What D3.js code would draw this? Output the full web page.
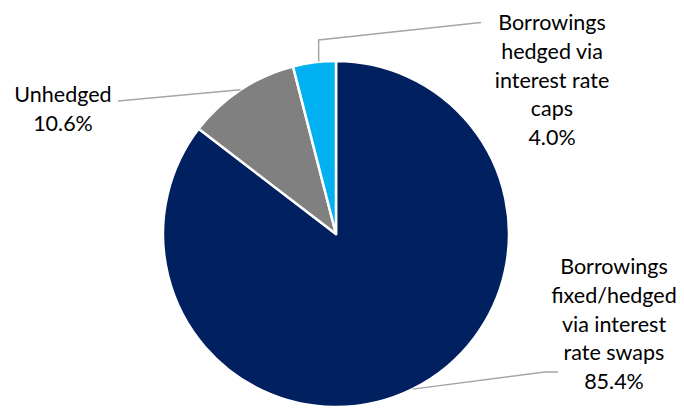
<!DOCTYPE html>
<html>
<head>
<meta charset="utf-8">
<script src="https://cdn.jsdelivr.net/npm/d3@7"></script>
<style>
  html, body { margin: 0; padding: 0; background: #fff; }
  svg { display: block; }
  text { font-family: Lato, "Open Sans", sans-serif; fill: #000; }
</style>
</head>
<body>
<svg id="chart" width="684" height="408"></svg>
<script>
// Borrowing hedge mix (share of total borrowings, %)
const categories = [
  "Borrowings fixed/hedged via interest rate swaps",
  "Unhedged",
  "Borrowings hedged via interest rate caps"
];
const shares = [85.4, 10.6, 4.0];
const colors = ["#002060", "#808080", "#00B0F0"];
// Label text, broken into lines as drawn
const labelLines = [
  ["Borrowings", "fixed/hedged", "via interest", "rate swaps", "85.4%"],
  ["Unhedged", "10.6%"],
  ["Borrowings", "hedged via", "interest rate", "caps", "4.0%"]
];

const width = 684, height = 408;
const cx = 336, cy = 234, radius = 173;
const fontSize = 21.5, lineHeight = 28.8;

// Label anchor (centre x, first baseline y), leader elbow/end and anchor angle fraction per slice
const labelPos = [
  { x: 614, y: 274, elbow: [545, 372], end: [558, 372], at: 0.5 },
  { x: 63,  y: 102, elbow: null,       end: [118, 101], at: 0.5 },
  { x: 552, y: 30,  elbow: "vertical", end: [481, 22.5], at: 0.6 }
];

const svg = d3.select("#chart");
const g = svg.append("g").attr("transform", `translate(${cx},${cy})`);

const data = categories.map((c, i) => ({ name: c, value: shares[i], color: colors[i], lines: labelLines[i], pos: labelPos[i] }));

const pie = d3.pie().value(d => d.value).sort(null).startAngle(0).endAngle(2 * Math.PI);
const arc = d3.arc().innerRadius(0).outerRadius(radius);
const arcs = pie(data);

g.selectAll("path.slice")
  .data(arcs)
  .join("path")
  .attr("class", "slice")
  .attr("d", arc)
  .attr("fill", d => d.data.color)
  .attr("stroke", "#fff")
  .attr("stroke-width", 2.5)
  .attr("stroke-linejoin", "round");

// Leader lines from each slice's outer edge to its label
arcs.forEach(a => {
  const p = a.data.pos;
  const ang = a.startAngle + (a.endAngle - a.startAngle) * p.at;
  const sx = cx + radius * Math.sin(ang);
  const sy = cy - radius * Math.cos(ang);
  const pts = [[sx, sy]];
  if (p.elbow === "vertical") {
    pts.push([sx, 40]);
  } else if (p.elbow) {
    pts.push(p.elbow);
  }
  pts.push(p.end);
  svg.append("path")
    .attr("d", d3.line()(pts))
    .attr("fill", "none")
    .attr("stroke", "#A6A6A6")
    .attr("stroke-width", 1.5);
});

// Category labels
data.forEach(d => {
  const t = svg.append("text")
    .attr("text-anchor", "middle")
    .attr("font-size", fontSize);
  d.lines.forEach((line, i) => {
    t.append("tspan")
      .attr("x", d.pos.x)
      .attr("y", d.pos.y + i * lineHeight)
      .text(line);
  });
});
</script>
</body>
</html>
